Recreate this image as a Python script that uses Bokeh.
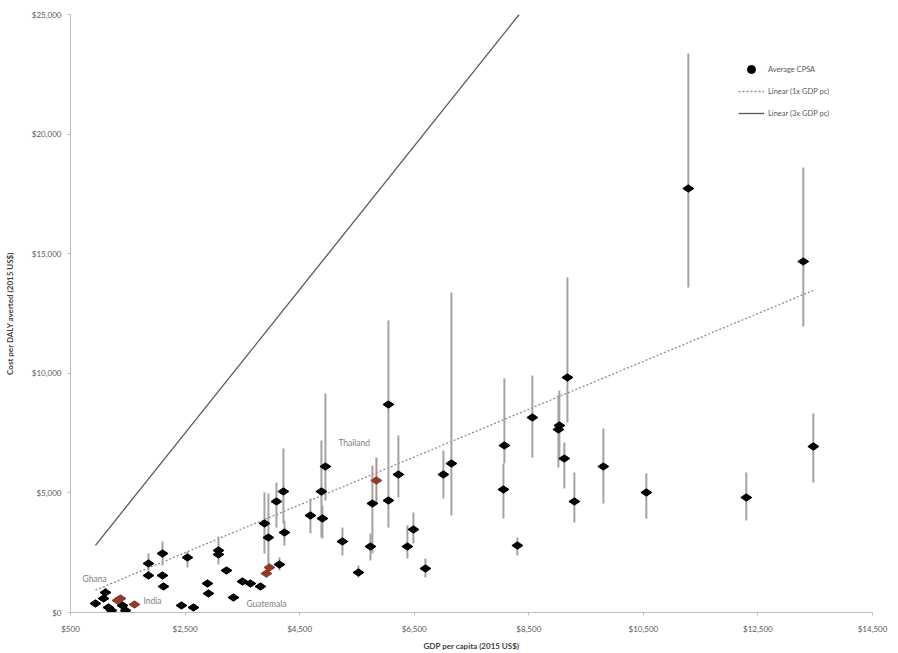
import math
from bokeh.plotting import figure
from bokeh.models import Range1d, FixedTicker, NumeralTickFormatter, Legend, LegendItem, ColumnDataSource
from bokeh.embed import file_html
from bokeh.resources import INLINE
from bokeh.core.properties import value

# ---- data ----
gdp = [936, 1076, 1111, 1163, 1216, 1408, 1460, 1861, 1861, 2106, 2106, 2123, 2437, 2647, 2542,
       2891, 2908, 3083, 3083, 3223, 3345, 3502, 3641, 3816, 3886, 3955, 4147, 4095, 4217, 4235,
       4688, 4880, 4898, 4950, 5247, 5526, 5770, 5736, 6050, 6050, 6224, 6381, 6486, 6696, 7010,
       7149, 8074, 8057, 8301, 8563, 9034, 9017, 9174, 9121, 9296, 9802, 10552, 11285, 12297,
       13292, 13467]
cost = [376, 585, 836, 209, 84, 293, 84, 2048, 1547, 2467, 1547, 1087, 293, 209, 2299,
        1212, 794, 2592, 2425, 1756, 627, 1296, 1212, 1087, 3721, 3135, 2007, 4640, 5058, 3344,
        4055, 5058, 3930, 6104, 2968, 1672, 4557, 2759, 8696, 4682, 5769, 2759, 3470, 1839, 5769,
        6229, 6982, 5142, 2801, 8152, 7818, 7651, 9824, 6438, 4640, 6104, 5017, 17726, 4808,
        14674, 6940]
cost_lo = [376, 585, 669, 209, 84, 293, 84, 1672, 1547, 1965, 1547, 1087, 293, 209, 1881,
           1212, 794, 2007, 2425, 1756, 627, 1296, 1212, 1087, 2467, 1881, 1756, 3554, 3721, 2801,
           3303, 3135, 3094, 4682, 2383, 1463, 2467, 2174, 5936, 3554, 4808, 2258, 2885, 1463, 4766,
           4055, 6229, 3930, 2383, 6480, 6355, 6062, 7943, 5184, 3763, 4557, 3930, 13587, 3846,
           11957, 5435]
cost_hi = [376, 585, 1045, 209, 84, 293, 84, 2467, 1547, 2968, 1547, 1087, 293, 209, 2550,
           1212, 794, 3177, 2425, 1756, 627, 1296, 1212, 1087, 5017, 4975, 2300, 5435, 6856, 3846,
           4766, 7191, 4473, 9155, 3554, 1965, 6145, 3303, 12207, 5936, 7400, 3637, 4181, 2258, 6773,
           13378, 9783, 6229, 3135, 9908, 9281, 9072, 14005, 7107, 5853, 7692, 5811, 23370, 5853,
           18604, 8319]

# highlighted (red) countries
red_gdp = [1320, 1373, 1617, 3920, 3973, 5840]
red_cost = [502, 585, 334, 1630, 1881, 5518]
red_lo = [502, 585, 334, 1463, 1714, 4557]
red_hi = [502, 585, 334, 1798, 2050, 6480]

# country labels (anchored to their points)
label_text = ["Ghana", "India", "Guatemala", "Thailand"]
label_gdp = [1111, 1617, 3920, 5840]
label_cost = [836, 334, 1630, 5518]

x_ticks = [500, 2500, 4500, 6500, 8500, 10500, 12500, 14500]
y_ticks = [0, 5000, 10000, 15000, 20000, 25000]
y_max = 25000

FONT = "Lato"

p = figure(width=898, height=653, output_backend="svg", toolbar_location=None,
           x_range=Range1d(500, 14500), y_range=Range1d(0, y_max),
           min_border_left=70, min_border_right=26, min_border_top=14, min_border_bottom=41)
p.outline_line_color = None
p.xgrid.visible = False
p.ygrid.visible = False
p.background_fill_color = "white"

for ax in (p.xaxis[0], p.yaxis[0]):
    ax.axis_line_color = "#bfbfbf"
    ax.major_tick_line_color = "#bfbfbf"
    ax.minor_tick_line_color = None
    ax.major_tick_out = 3
    ax.major_tick_in = 0
    ax.major_label_text_font = FONT
    ax.major_label_text_font_size = "8px"
    ax.major_label_text_color = "#595959"
    ax.axis_label_text_font = FONT
    ax.axis_label_text_font_size = "8px"
    ax.axis_label_text_font_style = "bold"
    ax.axis_label_text_color = "#404040"
    ax.formatter = NumeralTickFormatter(format="$0,0")

p.xaxis.ticker = FixedTicker(ticks=x_ticks)
p.yaxis.ticker = FixedTicker(ticks=y_ticks)
p.xaxis.axis_label = "GDP per capita (2015 US$)"
p.yaxis.axis_label = "Cost per DALY averted (2015 US$)"
p.xaxis.major_label_standoff = 8
p.xaxis.axis_label_standoff = 4
p.yaxis.major_label_standoff = 6
p.yaxis.axis_label_standoff = 14

# threshold lines
all_gdp = gdp + red_gdp
gmin, gmax = min(all_gdp), max(all_gdp)
line1 = p.line([gmin, gmax], [gmin * 1, gmax * 1], line_color="#8c8c8c", line_width=1.3,
               line_dash="2 2")
line3 = p.line([gmin, y_max / 3], [gmin * 3, y_max], line_color="#595959", line_width=1.3)

# error bars
p.segment(x0=gdp, y0=cost_lo, x1=gdp, y1=cost_hi, line_color="#a3a3a3", line_width=2)
p.segment(x0=red_gdp, y0=red_lo, x1=red_gdp, y1=red_hi, line_color="#b59088", line_width=2)

pts = p.scatter(gdp, cost, marker="diamond", angle=math.pi / 2, size=11,
                fill_color="black", line_color="black")
p.scatter(red_gdp, red_cost, marker="diamond", angle=math.pi / 2, size=11,
          fill_color="#8e3b2b", line_color="#8e3b2b")

# legend marker (circle dot, drawn beneath an existing point)
leg_dot = p.scatter(x=gdp[-1:], y=cost[-1:], marker="circle", size=6,
                    fill_color="black", line_color="black")

# country labels
offsets_x = [-23, 9, -20, -38]
offsets_y = [-14, -4, 30, -38]
src = ColumnDataSource(dict(x=label_gdp, y=label_cost, t=label_text, ox=offsets_x, oy=offsets_y))
p.text(x="x", y="y", text="t", x_offset="ox", y_offset="oy", source=src,
       text_font=value(FONT), text_font_size="8.5px", text_color="#7f7f7f",
       text_baseline="middle", text_align="left")

legend = Legend(items=[
    LegendItem(label="Average CPSA", renderers=[leg_dot]),
    LegendItem(label="Linear (1x GDP pc)", renderers=[line1]),
    LegendItem(label="Linear (3x GDP pc)", renderers=[line3]),
], location=(668, 489))
legend.border_line_color = None
legend.background_fill_alpha = 0
legend.label_text_font = FONT
legend.label_text_font_size = "7.5px"
legend.label_text_color = "#595959"
legend.glyph_width = 26
legend.glyph_height = 20
legend.label_height = 20
legend.spacing = 2
legend.padding = 4
legend.margin = 0
legend.label_standoff = 4
p.add_layout(legend)

open("out.html", "w").write(file_html(p, INLINE))
